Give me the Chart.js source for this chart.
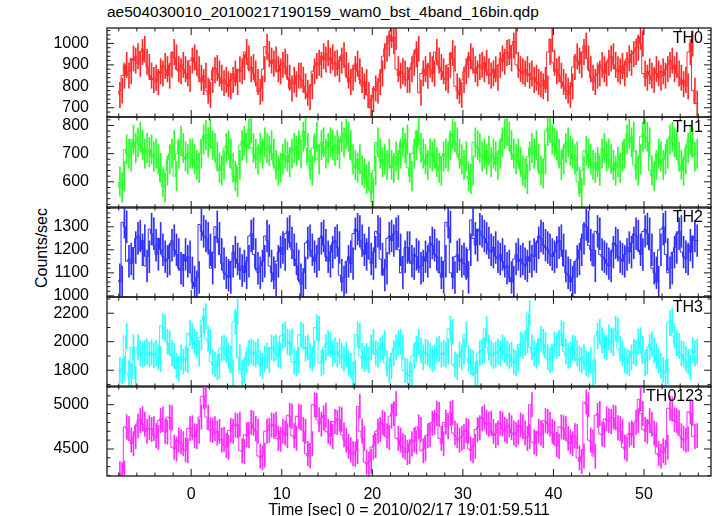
<!DOCTYPE html>
<html><head><meta charset="utf-8">
<script src="https://cdn.jsdelivr.net/npm/chart.js@4.4.1/dist/chart.umd.min.js"></script>
<style>
html,body{margin:0;padding:0;background:#fff;}
#wrap{position:relative;width:717px;height:516px;overflow:hidden;background:#fff;font-family:"Liberation Sans",Arial,sans-serif;color:#000;}
#wrap canvas{position:absolute;left:0;}
#title{position:absolute;left:107px;top:3px;font-size:15.5px;line-height:18px;white-space:nowrap;}
#ytitle{position:absolute;left:-58px;top:239px;width:200px;text-align:center;font-size:16px;line-height:18px;transform:rotate(-90deg);transform-origin:50% 50%;white-space:nowrap;}
</style></head>
<body>
<div id="wrap">
<div id="title">ae504030010_20100217190159_wam0_bst_4band_16bin.qdp</div>
<div id="ytitle">Counts/sec</div>
</div>
<script>
// ---- time bins ----
const T_START = -8;
const BIN = 0.25;

// ---- series values (counts/sec), 256 bins each ----
const th0 = [
760,780,850,900,850,870,930,920,940,905,960,975,915,890,850,830,
840,820,870,860,895,880,850,900,960,935,880,870,900,880,860,835,
920,935,910,880,840,820,850,780,760,830,875,885,860,840,815,830,
810,800,830,860,820,880,870,890,960,930,880,890,860,820,775,790,
880,985,950,920,905,925,880,870,900,915,890,840,790,830,810,850,
850,830,800,770,750,800,870,895,910,900,940,925,955,920,935,905,
910,880,920,945,900,850,820,840,880,905,870,830,800,820,760,700,
740,790,780,820,860,940,975,1000,1040,1010,1030,880,850,870,860,830,
830,880,910,950,975,770,860,880,850,900,880,860,960,920,890,870,
840,830,900,955,930,800,780,760,830,870,900,940,920,880,860,890,
900,880,910,870,850,860,880,840,900,930,915,955,960,930,990,1010,
900,880,870,860,880,850,860,830,840,820,810,800,830,790,960,1020,
910,870,880,850,820,800,780,760,800,890,940,920,900,960,990,930,
880,840,820,850,860,900,880,860,910,930,940,900,880,870,895,860,
900,930,910,950,960,980,1030,1000,860,840,870,850,830,880,860,840,
870,850,880,900,920,880,900,860,840,810,830,800,960,1000,780,720
];
const th1 = [
600,580,620,715,700,690,750,720,740,760,730,700,720,705,715,690,
700,680,650,600,580,640,680,700,730,620,700,745,720,690,680,700,
700,680,660,650,700,750,765,740,770,730,720,690,650,640,660,720,
730,700,650,620,600,660,730,745,720,770,790,720,700,680,720,700,
740,720,710,730,700,660,640,650,680,700,690,670,700,720,710,730,
700,760,780,720,660,640,720,760,680,730,740,700,720,740,730,710,
730,700,760,740,770,760,730,680,660,650,680,640,630,610,620,580,
560,640,740,700,670,680,660,700,660,650,690,660,700,740,720,750,
650,620,700,730,780,720,700,680,660,700,690,700,670,650,640,690,
700,690,730,770,760,740,700,680,660,690,620,610,640,740,730,720,
690,700,680,710,670,700,690,660,700,740,770,780,760,730,700,680,
700,670,640,630,610,690,720,700,730,680,640,630,680,780,790,750,
740,730,700,660,680,720,740,710,700,680,690,600,560,640,710,700,
680,660,650,670,640,700,720,690,700,680,660,640,670,650,690,700,
750,770,740,760,660,640,680,760,770,760,740,640,620,660,700,690,
660,680,700,750,760,740,730,690,660,640,680,720,750,740,690,700
];
const th2 = [
1070,1060,1320,1300,1150,1160,1140,1210,1250,1260,1200,1240,1130,1170,1290,1270,
1220,1180,1250,1200,1170,1150,1160,1220,1240,1200,1180,1120,1110,1180,1150,1170,
1100,1060,1040,1080,1310,1280,1260,1250,1200,1120,1190,1300,1250,1180,1140,1100,
1090,1080,1150,1190,1160,1140,1110,1130,1100,1150,1260,1270,1180,1120,1100,1130,
1150,1260,1240,1130,1100,1070,1150,1190,1210,1180,1270,1280,1230,1200,1160,1130,
1070,1050,1100,1230,1240,1200,1170,1150,1180,1250,1260,1220,1170,1150,1190,1230,
1240,1210,1090,1060,1080,1150,1170,1140,1270,1290,1280,1240,1200,1180,1230,1160,
1140,1190,1280,1270,1160,1090,1120,1250,1260,1240,1270,1280,1200,1100,1170,1210,
1210,1150,1140,1180,1170,1120,1130,1170,1150,1190,1230,1220,1180,1170,1100,1080,
1150,1320,1300,1100,1080,1170,1180,1150,1160,1140,1080,1200,1330,1250,1220,1290,
1280,1260,1250,1230,1200,1190,1210,1170,1160,1180,1150,1120,1130,1080,1060,1160,
1180,1150,1160,1140,1130,1170,1150,1180,1170,1230,1260,1250,1220,1210,1200,1180,
1170,1190,1230,1240,1200,1130,1100,1090,1060,1080,1150,1160,1200,1250,1310,1300,
1220,1200,1130,1280,1270,1180,1170,1160,1140,1130,1190,1230,1220,1170,1160,1150,
1180,1210,1190,1230,1270,1260,1200,1180,1280,1290,1270,1200,1120,1100,1060,1200,
1290,1300,1180,1100,1120,1190,1210,1270,1280,1190,1170,1160,1220,1190,1260,1240
];
const th3 = [
1800,1790,1810,2040,1780,1760,1960,1740,1960,1920,1910,1920,1930,1910,1925,1905,
1920,1890,1880,2110,2100,2000,1990,1920,1900,1830,1810,1890,1860,1880,1870,2060,
2040,2000,1980,1920,2030,2150,2180,2020,2000,1860,1840,1820,1830,1950,1960,1940,
1900,1880,1780,2140,2210,1890,1780,1800,1870,1920,1930,1920,1910,1930,1850,1830,
1880,1900,1870,1960,1950,1960,1910,1900,2040,2050,2000,1990,2000,1860,1850,1870,
2050,2040,1950,1960,1900,1880,1920,2100,2090,1850,1860,1960,1990,1980,1920,1940,
1910,1930,1900,1880,1910,1850,1830,1770,1780,2050,2040,1900,1880,1900,1870,1960,
2000,1920,1910,1940,1960,1990,1850,1800,1830,1920,1960,1990,2000,1960,1800,1790,
1770,1760,1900,1950,2000,1940,1890,1930,1920,1900,1880,1890,1940,1950,1910,1920,
1910,1930,2090,2070,1840,1820,1910,1890,1930,2050,1880,1860,1850,1770,1780,1920,
1930,1940,2090,1960,1920,1900,1910,1930,1920,1960,1940,1920,1900,1910,1860,1850,
1880,1980,1970,1990,2010,2200,1960,1920,1900,1930,2020,2000,1980,1890,1870,1880,
1980,1970,1990,2060,2050,1930,1900,1910,1960,1950,1920,1880,1870,1890,1850,1840,
1870,1780,1790,2040,2070,2010,1970,1960,2030,2010,1990,2090,2080,1950,1920,1870,
1860,1850,1890,1930,1920,2000,2010,1950,1850,1860,1960,1980,1940,1900,1870,1830,
1800,1780,1790,2130,2150,2040,1990,1970,1920,1910,1880,1860,1820,1940,1920,1930
];
const th0123 = [
4220,4210,4230,4750,4730,4600,4560,4640,4760,4820,4840,4780,4700,4740,4720,4730,
4650,4630,4820,4840,4700,4690,4860,4850,4520,4500,4600,4580,4560,4490,4480,4730,
4740,4650,4640,4700,4860,5090,5100,4860,4720,4710,4730,4680,4700,4600,4610,4540,
4520,4710,4700,4770,4760,4780,4480,4470,4660,4650,4800,4790,4730,4700,4420,4400,
4430,4700,4710,4770,4760,4780,4620,4610,4700,4680,4650,4880,4870,4650,4620,4870,
4860,4720,4700,4450,4420,4560,5000,4990,4830,4780,4850,4880,4700,4680,4640,4810,
4800,4840,4830,4660,4600,4530,4490,4450,4440,4470,4980,4700,4620,4350,4330,4360,
4520,4540,4700,4720,4800,4780,4650,4630,4870,4900,5010,4620,4600,4540,4520,4460,
4470,4560,4600,4580,4750,4720,4480,4500,4650,4660,4790,4800,4900,4890,4620,4560,
4800,4750,4900,4910,4680,4650,4600,4620,4640,4710,4700,4500,4480,4530,4720,4740,
4840,4860,4800,4780,4790,4700,4650,4680,4790,4780,4720,4700,4770,4740,4680,4660,
4690,4770,4750,4680,4620,4640,5000,4580,4560,4700,4680,4650,4820,4810,4780,4700,
4680,4550,4530,4750,4740,4730,4620,4580,4560,4650,4640,4400,4360,4420,5030,5000,
4600,4580,4420,4880,4900,4670,4660,4840,4820,4810,4860,4850,4740,4730,4700,4520,
4500,4660,4680,4650,4800,4820,5060,4900,4720,4700,4820,4780,4680,4660,4450,4420,
4480,4460,4520,4960,4950,4830,4820,4800,4650,4620,4600,4610,4920,4900,4640,4650
];

// ---- per-panel description ----
const panelNames = ['TH0', 'TH1', 'TH2', 'TH3', 'TH0123'];
const panelSeries = [th0, th1, th2, th3, th0123];
const panelErrors = [59, 52, 69, 88, 137];
const panelColors = ['#ff2b2b', '#2bff2b', '#3030ff', '#2bffff', '#ff2bff'];
const yMins = [657, 507, 995, 1682, 4195];
const yMaxs = [1072, 830, 1386, 2314, 5211];
const yMinorSteps = [20, 20, 20, 100, 100];
const yMajorSteps = [100, 100, 100, 200, 500];
const X_MIN = -9.3, X_MAX = 57.4;
const X_MINOR = 2, X_MAJOR = 10;
const X_TICK_FIRST = -8, X_TICK_LAST = 56;
const X_TITLE = 'Time [sec] 0 = 2010/02/17 19:01:59.511';

// ---- layout ----
const panelTops = [28, 116.5, 207, 296.5, 386];
const panelBottom = 476;
const PAD = 12;
const X_AXIS_H = 44;
const FONT = '"Liberation Sans", Arial, sans-serif';

Chart.defaults.font.family = FONT;
Chart.defaults.color = '#000';

function isMult(v, step) { const r = v / step; return Math.abs(r - Math.round(r)) < 1e-6; }

const xTickValues = [];
for (let v = X_TICK_FIRST; v <= X_TICK_LAST + 1e-9; v += X_MINOR) xTickValues.push(v);

const framePlugin = {
  id: 'frame',
  afterDatasetsDraw(chart, args, opts) {
    const ctx = chart.ctx, a = chart.chartArea;
    const xs = chart.scales.x, ys = chart.scales.y;
    ctx.save();
    ctx.strokeStyle = '#1a1a1a';
    ctx.lineWidth = 1;
    ctx.beginPath();
    xTickValues.forEach(v => {
      const px = xs.getPixelForValue(v);
      const len = isMult(v, X_MAJOR) ? 7 : 3.5;
      ctx.moveTo(px, a.top); ctx.lineTo(px, a.top + len);
      ctx.moveTo(px, a.bottom); ctx.lineTo(px, a.bottom - len);
    });
    ys.ticks.forEach(t => {
      const py = ys.getPixelForValue(t.value);
      const len = isMult(t.value, opts.major) ? 7 : 3.5;
      ctx.moveTo(a.left, py); ctx.lineTo(a.left + len, py);
      ctx.moveTo(a.right, py); ctx.lineTo(a.right - len, py);
    });
    ctx.stroke();
    ctx.lineWidth = 1.3;
    ctx.strokeRect(a.left, a.top, a.right - a.left, a.bottom - a.top);
    ctx.fillStyle = '#000';
    ctx.font = '16px ' + FONT;
    ctx.textAlign = 'right';
    ctx.textBaseline = 'middle';
    ctx.fillText(opts.name, a.right - 8, a.top + 11);
    ctx.restore();
  }
};

const wrap = document.getElementById('wrap');
panelNames.forEach((name, p) => {
  const isLast = p === panelNames.length - 1;
  const top = panelTops[p];
  const bottom = isLast ? panelBottom : panelTops[p + 1];
  const h = bottom - top;
  const cv = document.createElement('canvas');
  const cvH = isLast ? PAD + h + X_AXIS_H : PAD + h + PAD;
  cv.width = 717; cv.height = Math.round(cvH);
  cv.style.top = (top - PAD) + 'px';
  cv.style.width = '717px'; cv.style.height = Math.round(cvH) + 'px';
  wrap.appendChild(cv);

  const vals = panelSeries[p];
  const err = panelErrors[p];
  const color = panelColors[p];
  const stepData = vals.map((v, i) => ({ x: T_START + i * BIN, y: v }));
  stepData.push({ x: T_START + vals.length * BIN, y: vals[vals.length - 1] });
  const errData = vals.map((v, i) => ({ x: T_START + (i + 0.5) * BIN, y: [v - err, v + err] }));

  const yTicks = [];
  const ys = yMinorSteps[p];
  for (let v = Math.ceil(yMins[p] / ys) * ys; v <= yMaxs[p]; v += ys) yTicks.push(v);

  const xScale = {
    type: 'linear', min: X_MIN, max: X_MAX, offset: false, display: isLast,
    grid: { display: false }, border: { display: false },
    afterBuildTicks: s => { s.ticks = xTickValues.map(v => ({ value: v })); },
    afterFit: s => {
      if (isLast) s.height = X_AXIS_H;
      s.paddingLeft = 0; s.paddingRight = 0; s.paddingTop = 0; s.paddingBottom = 0;
    },
    ticks: { autoSkip: false, maxRotation: 0, padding: 1, font: { size: 16 }, color: '#000',
      callback: v => (isMult(v, X_MAJOR) ? String(Math.round(v)) : '') },
    title: { display: isLast, text: X_TITLE, font: { size: 16 }, color: '#000', padding: { top: 0, bottom: 0 } }
  };

  new Chart(cv, {
    type: 'line',
    data: {
      datasets: [
        { type: 'bar', data: errData, backgroundColor: color, borderWidth: 0, barThickness: 1, order: 2 },
        { type: 'line', data: stepData, borderColor: color, borderWidth: 1, pointRadius: 0,
          stepped: 'after', tension: 0, fill: false, order: 1 }
      ]
    },
    options: {
      responsive: false, animation: false, events: [],
      layout: { padding: { left: 0, right: 6, top: PAD, bottom: isLast ? 0 : PAD } },
      plugins: { legend: { display: false }, tooltip: { enabled: false },
        frame: { name: name, major: yMajorSteps[p] } },
      scales: {
        x: xScale,
        y: {
          type: 'linear', min: yMins[p], max: yMaxs[p],
          grid: { display: false }, border: { display: false },
          afterBuildTicks: s => { s.ticks = yTicks.map(v => ({ value: v })); },
          afterFit: s => { s.width = 107; s.paddingTop = 0; s.paddingBottom = 0; s.paddingLeft = 0; s.paddingRight = 0; },
          ticks: { autoSkip: false, padding: 10, font: { size: 16 }, color: '#000',
            callback: v => (isMult(v, yMajorSteps[p]) ? String(v) : '') }
        }
      }
    },
    plugins: [framePlugin]
  });
});
</script>
</body></html>
